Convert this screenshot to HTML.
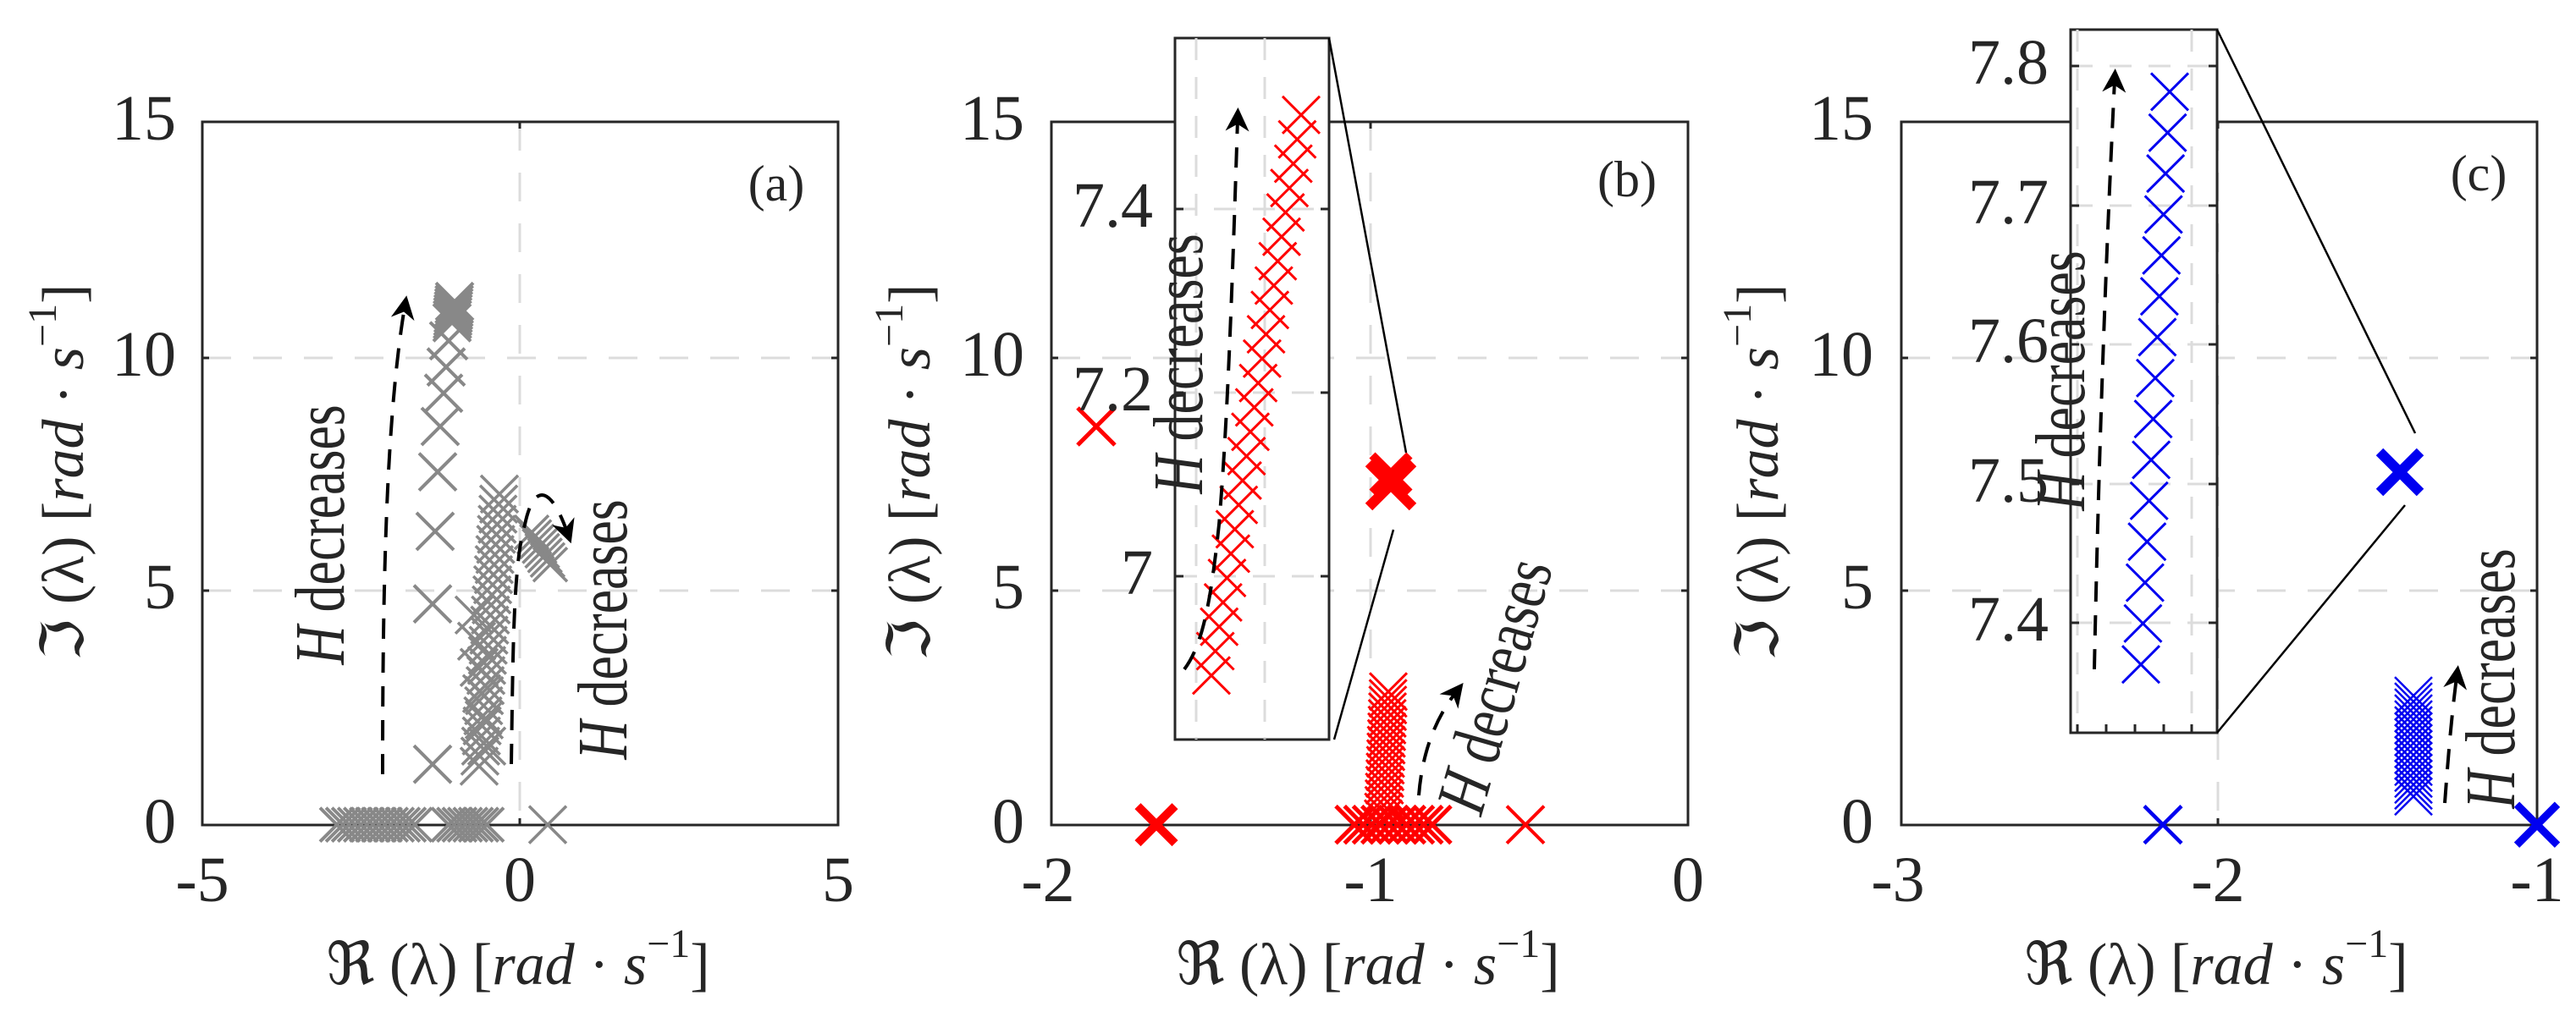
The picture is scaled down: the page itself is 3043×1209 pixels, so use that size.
<!DOCTYPE html>
<html><head><meta charset="utf-8"><style>
html,body{margin:0;padding:0;background:#fff;}
svg{display:block}
text{font-family:"Liberation Serif","DejaVu Serif",serif;fill:#262626}
</style></head><body>
<svg id="s" width="3043" height="1209" viewBox="0 0 3043 1209" xmlns="http://www.w3.org/2000/svg">
<defs>
<marker id="ah" viewBox="0 0 10 10" refX="5" refY="5" markerWidth="7" markerHeight="7" orient="auto"><path d="M0,0 L10,5 L0,10 L3,5 z" fill="#000"/></marker>
</defs>
<g stroke="#dcdcdc" stroke-width="3" stroke-dasharray="34,26" fill="none">
<line x1="614" y1="144" x2="614" y2="975"/><line x1="239" y1="423" x2="990" y2="423"/><line x1="239" y1="698" x2="990" y2="698"/>
<line x1="1619" y1="144" x2="1619" y2="975"/><line x1="1242" y1="423" x2="1994" y2="423"/><line x1="1242" y1="698" x2="1994" y2="698"/>
<line x1="2620" y1="144" x2="2620" y2="975"/><line x1="2246" y1="423" x2="2997" y2="423"/><line x1="2246" y1="698" x2="2997" y2="698"/>
</g>
<g fill="none" stroke="#262626" stroke-width="3">
<rect x="239" y="144" width="751" height="831"/>
<rect x="1242" y="144" width="752" height="831"/>
<rect x="2246" y="144" width="751" height="831"/>
<path d="M239,423h8M239,698h8M990,423h-8M990,698h-8M614,975v-8M614,144v8"/>
<path d="M1242,423h8M1242,698h8M1994,423h-8M1994,698h-8M1619,975v-8M1619,144v8"/>
<path d="M2246,423h8M2246,698h8M2997,423h-8M2997,698h-8M2620,975v-8M2620,144v8"/>
</g>
<g font-size="76" text-anchor="end">
<text x="208" y="165">15</text><text x="208" y="444">10</text><text x="208" y="719">5</text><text x="208" y="996">0</text>
<text x="1210" y="165">15</text><text x="1210" y="444">10</text><text x="1210" y="719">5</text><text x="1210" y="996">0</text>
<text x="2213" y="165">15</text><text x="2213" y="444">10</text><text x="2213" y="719">5</text><text x="2213" y="996">0</text>
</g>
<g font-size="76" text-anchor="middle">
<text x="239" y="1065">-5</text><text x="614" y="1065">0</text><text x="990" y="1065">5</text>
<text x="1238" y="1065">-2</text><text x="1619" y="1065">-1</text><text x="1994" y="1065">0</text>
<text x="2242" y="1065">-3</text><text x="2620" y="1065">-2</text><text x="2997" y="1065">-1</text>
</g>
<g font-size="70" text-anchor="middle">
<text x="612" y="1163">ℜ (λ) [<tspan font-style="italic">rad</tspan> · <tspan font-style="italic">s</tspan><tspan dy="-32" font-size="48">−1</tspan><tspan dy="32">]</tspan></text>
<text x="1616" y="1163">ℜ (λ) [<tspan font-style="italic">rad</tspan> · <tspan font-style="italic">s</tspan><tspan dy="-32" font-size="48">−1</tspan><tspan dy="32">]</tspan></text>
<text x="2618" y="1163">ℜ (λ) [<tspan font-style="italic">rad</tspan> · <tspan font-style="italic">s</tspan><tspan dy="-32" font-size="48">−1</tspan><tspan dy="32">]</tspan></text>
<text transform="translate(98,558) rotate(-90)">ℑ (λ) [<tspan font-style="italic">rad</tspan> · <tspan font-style="italic">s</tspan><tspan dy="-32" font-size="48">−1</tspan><tspan dy="32">]</tspan></text>
<text transform="translate(1098,558) rotate(-90)">ℑ (λ) [<tspan font-style="italic">rad</tspan> · <tspan font-style="italic">s</tspan><tspan dy="-32" font-size="48">−1</tspan><tspan dy="32">]</tspan></text>
<text transform="translate(2100,558) rotate(-90)">ℑ (λ) [<tspan font-style="italic">rad</tspan> · <tspan font-style="italic">s</tspan><tspan dy="-32" font-size="48">−1</tspan><tspan dy="32">]</tspan></text>
</g>
<g font-size="60" text-anchor="middle" fill="#000">
<text x="917" y="237">(a)</text><text x="1922" y="232">(b)</text><text x="2928" y="225">(c)</text>
</g>
<g id="marks"></g>
<g>
<rect x="1388" y="45" width="182" height="829" fill="#fff" stroke="#262626" stroke-width="3"/>
<g stroke="#dcdcdc" stroke-width="3" stroke-dasharray="26,20"><line x1="1413" y1="45" x2="1413" y2="874"/><line x1="1494" y1="45" x2="1494" y2="874"/><line x1="1388" y1="464" x2="1570" y2="464"/><line x1="1388" y1="681" x2="1570" y2="681"/><line x1="1388" y1="247" x2="1570" y2="247"/></g>
<g stroke="#262626" stroke-width="3"><path d="M1388,247h10M1388,464h10M1388,681h10M1570,247h-10M1570,464h-10M1570,681h-10"/></g>
<g font-size="76" text-anchor="end"><text x="1362" y="268">7.4</text><text x="1362" y="485">7.2</text><text x="1362" y="702">7</text></g>
</g>
<g>
<rect x="2446" y="35" width="173" height="831" fill="#fff" stroke="#262626" stroke-width="3"/>
<g stroke="#dcdcdc" stroke-width="3" stroke-dasharray="26,20"><line x1="2454" y1="35" x2="2454" y2="866"/><line x1="2589" y1="35" x2="2589" y2="866"/><line x1="2446" y1="78" x2="2619" y2="78"/><line x1="2446" y1="243" x2="2619" y2="243"/><line x1="2446" y1="407" x2="2619" y2="407"/><line x1="2446" y1="572" x2="2619" y2="572"/><line x1="2446" y1="736" x2="2619" y2="736"/></g>
<g stroke="#262626" stroke-width="3"><path d="M2446,78h10M2446,243h10M2446,407h10M2446,572h10M2446,736h10M2619,78h-10M2619,243h-10M2619,407h-10M2619,572h-10M2619,736h-10M2454,866v-10M2488,866v-10M2522,866v-10M2556,866v-10M2589,866v-10"/></g>
<g font-size="76" text-anchor="end"><text x="2420" y="99">7.8</text><text x="2420" y="264">7.7</text><text x="2420" y="428">7.6</text><text x="2420" y="593">7.5</text><text x="2420" y="757">7.4</text></g>
</g>
<g id="marks2"></g>
<g stroke="#000" stroke-width="2.5">
<line x1="1570" y1="45" x2="1661" y2="535"/><line x1="1576" y1="874" x2="1646" y2="626"/>
<line x1="2619" y1="35" x2="2853" y2="512"/><line x1="2619" y1="866" x2="2841" y2="597"/>
</g>
<g fill="none" stroke="#000" stroke-width="4" stroke-dasharray="24,16" marker-end="url(#ah)">
<path d="M452,915 C452,715 455,500 478,363"/>
<path d="M604,903 C606,774 606,667 620,620 C630,572 650,572 670,629"/>
<path d="M1676,940 C1680,890 1695,850 1720,818"/>
<path d="M1399,791 C1420,763 1430,715 1440,620 C1450,500 1455,357 1462,141"/>
<path d="M2888,949 C2892,894 2896,846 2902,800"/>
<path d="M2474,791 C2478,596 2485,357 2498,95"/>
</g>
<g font-size="64" fill="#000" text-anchor="middle">
<text transform="translate(406,632) rotate(-90) scale(1,1.3)"><tspan font-style="italic">H</tspan> decreases</text>
<text transform="translate(740,744) rotate(-90) scale(1,1.3)"><tspan font-style="italic">H</tspan> decreases</text>
<text transform="translate(1792,818) rotate(-74) scale(1,1.3)"><tspan font-style="italic">H</tspan> decreases</text>
<text transform="translate(1420,430) rotate(-90) scale(1,1.3)"><tspan font-style="italic">H</tspan> decreases</text>
<text transform="translate(2462,450) rotate(-90) scale(1,1.3)"><tspan font-style="italic">H</tspan> decreases</text>
<text transform="translate(2970,802) rotate(-90) scale(1,1.3)"><tspan font-style="italic">H</tspan> decreases</text>
</g>
</svg>
<script>
var NS="http://www.w3.org/2000/svg",K=1.1915;
function X(g,x,y,h,c,w){var p=document.createElementNS(NS,"path");p.setAttribute("d","M"+(x-h)+","+(y-h)+"L"+(x+h)+","+(y+h)+"M"+(x-h)+","+(y+h)+"L"+(x+h)+","+(y-h));p.setAttribute("stroke",c);p.setAttribute("stroke-width",w);p.setAttribute("fill","none");g.appendChild(p);}
function chain(g,x1,y1,x2,y2,n,h,c,w){for(var i=0;i<n;i++){var t=n>1?i/(n-1):0;X(g,x1+(x2-x1)*t,(y1+(y2-y1)*t)*K,h,c,w);}}
function P(g,x,y,h,c,w){X(g,x,y*K,h,c,w);}
var g=document.getElementById("marks"),g2=document.getElementById("marks2");
var G="#888";
chain(g,537,299,534,320,8,22,G,4);
[[530,338],[527,364],[524,390],[520,423],[517,468],[514,527],[511,599],[511,758]].forEach(function(p){P(g,p[0],p[1],22,G,4)});
chain(g,590,490,566,760,28,22,G,3.5);
chain(g,560,610,575,740,6,22,G,3.5);
chain(g,628,528,650,560,8,20,G,3.5);
chain(g,398,818,490,818,14,20,G,4);
chain(g,530,818,575,818,8,20,G,4);
P(g,647,818,22,G,3.5);
var R="#f00";
P(g,1295,423,22,R,5);
P(g,1366,818,22,R,10);
chain(g,1600,818,1692,818,10,22,R,5);
chain(g,1640,686,1634,812,20,22,R,3);
X(g,1643,573,26,R,12);X(g,1643,560,22,R,10);
P(g,1802,818,22,R,4);
chain(g2,1431,670,1537,114,24,22,R,3);
var B="#0000f0";
P(g,2555,818,22,B,4.5);
P(g,2997,818,24,B,9);
chain(g,2851,690,2851,790,18,22,B,2.5);
X(g,2835,558,24,B,12);
chain(g2,2529,659,2563,91,15,22,B,3);
</script>
</body></html>
